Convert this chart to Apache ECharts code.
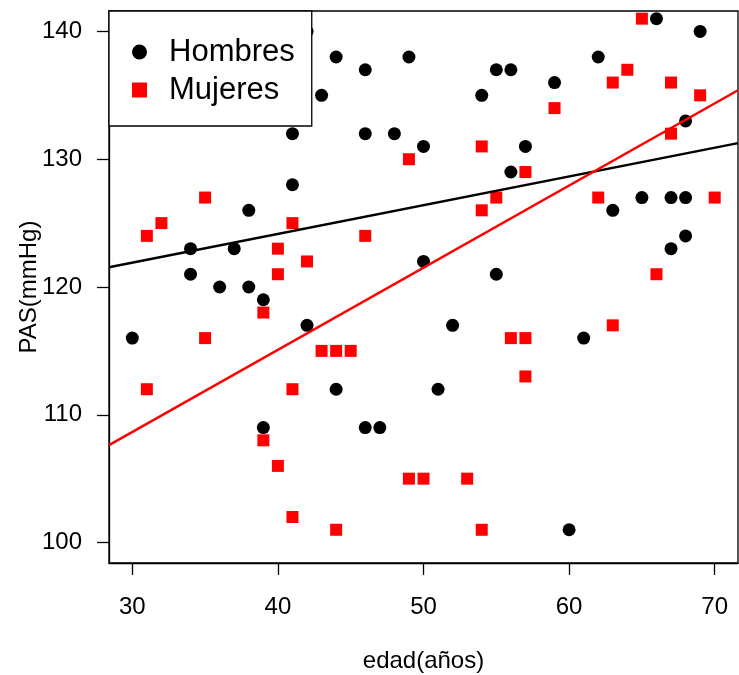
<!DOCTYPE html>
<html>
<head>
<meta charset="utf-8">
<script src="https://cdn.jsdelivr.net/npm/echarts@6/dist/echarts.min.js"></script>
<style>html,body{margin:0;padding:0;background:#fff;}#c{width:739px;height:675px;}</style>
</head>
<body>
<div id="c"></div>
<script>
// Hombres (men): edad, PAS
const hombresEdad = [30,34,34,36,37,38,38,39,39,41,41,42,42,43,44,44,46,46,46,47,48,49,50,50,51,52,54,55,55,56,56,57,59,60,61,62,63,65,66,67,67,68,68,68,69];
const hombresPAS  = [116,123,121,120,123,126,120,119,109,132,128,140,117,135,138,112,137,132,109,109,132,138,131,122,112,117,135,137,121,137,129,131,136,101,116,138,126,127,141,127,123,133,127,124,140];
// Mujeres (women): edad, PAS
const mujeresEdad = [31,31,32,35,35,39,39,40,40,40,40,41,41,41,42,43,44,44,45,46,49,49,50,53,54,54,54,55,56,57,57,57,59,62,63,63,64,65,66,67,67,69,70];
const mujeresPAS  = [124,112,125,127,116,118,108,123,121,106,98,125,112,102,122,115,115,101,115,124,130,105,105,105,131,126,101,127,116,129,116,113,134,127,136,117,137,141,121,136,132,135,127];
// Regression lines [intercept, slope]
const fitHombres = [115.15, 0.225];
const fitMujeres = [89.36, 0.643];
const xTicks = [30,40,50,60,70];
const yTicks = [100,110,120,130,140];
const seriesNames = ['Hombres','Mujeres'];

const xMin = 28.4, xMax = 71.6, yMin = 98.4, yMax = 141.6;
const pts = (xs, ys) => xs.map((x, i) => [x, ys[i]]);
const fitLine = f => [[xMin, f[0] + f[1]*xMin], [xMax, f[0] + f[1]*xMax]];
const font = 'Liberation Sans, Arial, Helvetica, sans-serif';

const chart = echarts.init(document.getElementById('c'), null, {renderer: 'canvas'});
chart.setOption({
  animation: false,
  backgroundColor: '#fff',
  grid: {left: 109, top: 11, right: 1, bottom: 112, outerBoundsMode: 'none', containLabel: false, show: true, borderColor: '#000', borderWidth: 1.3, backgroundColor: 'transparent'},
  xAxis: {
    type: 'value', min: xMin, max: xMax,
    name: 'edad(años)', nameLocation: 'middle', nameGap: 86, nameMoveOverlap: false,
    nameTextStyle: {fontSize: 24, color: '#000', fontFamily: font},
    axisLine: {show: true, lineStyle: {color: '#000', width: 1.3}},
    axisTick: {show: true, length: 12, lineStyle: {color: '#000', width: 1.3}, customValues: xTicks},
    axisLabel: {fontSize: 24, color: '#000', fontFamily: font, margin: 32, customValues: xTicks},
    splitLine: {show: false}
  },
  yAxis: {
    type: 'value', min: yMin, max: yMax,
    name: 'PAS(mmHg)', nameLocation: 'middle', nameGap: 68, nameMoveOverlap: false,
    nameTextStyle: {fontSize: 24, color: '#000', fontFamily: font},
    axisLine: {show: true, lineStyle: {color: '#000', width: 1.3}},
    axisTick: {show: true, length: 12, lineStyle: {color: '#000', width: 1.3}, customValues: yTicks},
    axisLabel: {fontSize: 24, color: '#000', fontFamily: font, margin: 27, customValues: yTicks},
    splitLine: {show: false}
  },
  legend: {
    data: [
      {name: seriesNames[0], icon: 'circle'},
      {name: seriesNames[1], icon: 'rect'}
    ],
    orient: 'vertical', left: 109, top: 11,
    backgroundColor: '#fff', borderColor: '#000', borderWidth: 1.3,
    padding: [22, 17, 17, 23],
    itemWidth: 15, itemHeight: 15, itemGap: 0,
    textStyle: {fontSize: 31, color: '#000', fontFamily: font, lineHeight: 38, padding: [0, 0, 0, 17]},
    z: 10
  },
  series: [
    {name: seriesNames[0], type: 'scatter', data: pts(hombresEdad, hombresPAS), symbol: 'circle', symbolSize: 13, itemStyle: {color: '#000', opacity: 1}, clip: true, z: 2},
    {name: seriesNames[1], type: 'scatter', data: pts(mujeresEdad, mujeresPAS), symbol: 'rect', symbolSize: 12, itemStyle: {color: '#ff0000', opacity: 1}, clip: true, z: 3},
    {name: 'fitH', type: 'line', data: fitLine(fitHombres), symbol: 'none', lineStyle: {color: '#000', width: 2.5}, clip: true, z: 4, silent: true},
    {name: 'fitM', type: 'line', data: fitLine(fitMujeres), symbol: 'none', lineStyle: {color: '#ff0000', width: 2.5}, clip: true, z: 4, silent: true}
  ]
});
</script>
</body>
</html>
